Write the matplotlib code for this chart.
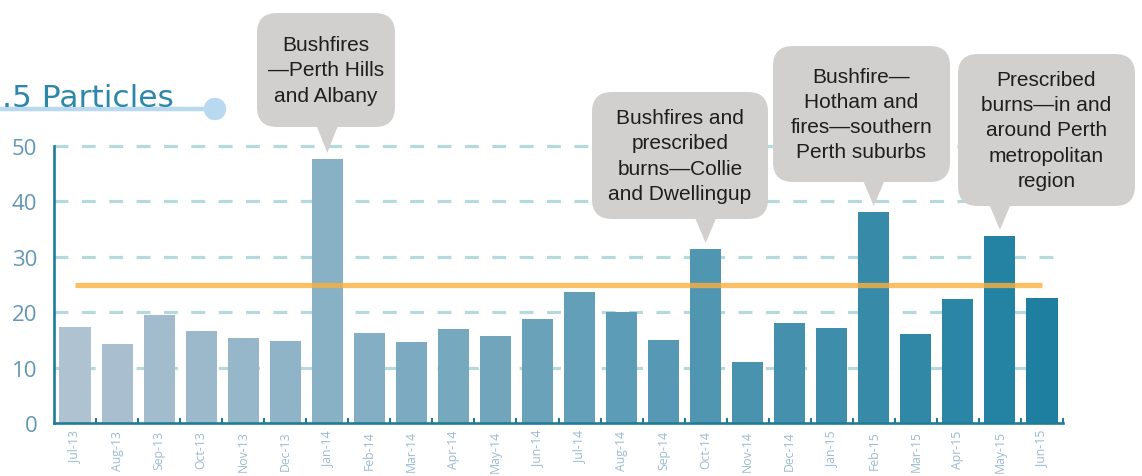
import matplotlib
matplotlib.use("Agg")
import matplotlib.pyplot as plt
import numpy as np
from matplotlib.colors import LinearSegmentedColormap
from matplotlib.patches import FancyBboxPatch, Polygon, Circle
from matplotlib.lines import Line2D

# ---------------- data ----------------
months = ["Jul-13", "Aug-13", "Sep-13", "Oct-13", "Nov-13", "Dec-13",
          "Jan-14", "Feb-14", "Mar-14", "Apr-14", "May-14", "Jun-14",
          "Jul-14", "Aug-14", "Sep-14", "Oct-14", "Nov-14", "Dec-14",
          "Jan-15", "Feb-15", "Mar-15", "Apr-15", "May-15", "Jun-15"]
pm25 = [17.3, 14.3, 19.5, 16.6, 15.3, 14.8,
        47.7, 16.2, 14.6, 17.0, 15.7, 18.8,
        23.6, 20.0, 15.0, 31.4, 11.0, 18.1,
        17.1, 38.1, 16.1, 22.4, 33.8, 22.6]
standard = 25
yticks = [0, 10, 20, 30, 40, 50]
title_text = ".5 Particles"
callout_months = ["Jan-14", "Oct-14", "Feb-15", "May-15"]
callout_texts = ["Bushfires\n\u2014Perth Hills\nand Albany",
                 "Bushfires and\nprescribed\nburns\u2014Collie\nand Dwellingup",
                 "Bushfire\u2014\nHotham and\nfires\u2014southern\nPerth suburbs",
                 "Prescribed\nburns\u2014in and\naround Perth\nmetropolitan\nregion"]

# ---------------- layout (pixels) ----------------
W, H = 1142, 477
ax_left, ax_right, ax_bottom, ax_top_50 = 54, 1063, 424, 147
ymax = 50.5
px_per_unit = (ax_bottom - ax_top_50) / 50.0
ax_top = ax_bottom - ymax * px_per_unit
# callout boxes: left, right, top, bottom (pixels, origin top-left)
callout_boxes = [(257, 395, 14, 128),
                 (592, 768, 93, 220),
                 (773, 950, 47, 183),
                 (958, 1135, 55, 207)]

spine_c = "#1f7c99"
grid_c = "#b6dadb"
ytick_c = "#6398b8"
xtick_c = "#9dbbd0"
orange_c = "#fbb040"
box_c = "#d1d0cf"

fig = plt.figure(figsize=(W / 100, H / 100), dpi=100)
ax = fig.add_axes([ax_left / W, 1 - ax_bottom / H,
                   (ax_right - ax_left) / W, (ax_bottom - ax_top) / H])

cmap = LinearSegmentedColormap.from_list("bars", ["#afc2d2", "#1e7fa0"])
x = np.arange(len(months))
colors = [cmap(i / (len(months) - 1)) for i in range(len(months))]

ax.set_xlim(-0.5, len(months) - 0.5)
ax.set_ylim(0, ymax)

# grid
for yv in yticks[1:]:
    ax.add_line(Line2D([-0.5, len(months) - 0.5], [yv, yv], color=grid_c,
                       lw=2.3, dashes=(10.0 / 2.3, 9.7 / 2.3),
                       dash_capstyle="butt", zorder=1))

ax.bar(x, pm25, width=0.74, color=colors, zorder=2)
ax.hlines(standard, 0, len(months) - 1, color=orange_c, lw=3.8,
          alpha=0.8, zorder=3)

for s in ["top", "right"]:
    ax.spines[s].set_visible(False)
for s in ["left", "bottom"]:
    ax.spines[s].set_color(spine_c)
    ax.spines[s].set_linewidth(1.9)
ax.spines["left"].set_bounds(0, 50)

ax.set_yticks(yticks)
ax.set_yticklabels([str(v) for v in yticks])
ax.tick_params(axis="y", length=0, pad=12, labelsize=16, labelcolor=ytick_c)
for t in ax.get_yticklabels():
    t.set_fontfamily("Open Sans")

ax.set_xticks(x)
ax.set_xticklabels(months, rotation=90)
ax.tick_params(axis="x", which="major", length=0, pad=5, labelsize=8.8,
               labelcolor=xtick_c)
for t in ax.get_xticklabels():
    t.set_fontfamily("Open Sans")
ax.set_xticks(x + 0.5, minor=True)
ax.tick_params(axis="x", which="minor", direction="in", length=3.8,
               width=1.5, color=spine_c)

# ---------------- overlay: title & callouts ----------------
oax = fig.add_axes([0, 0, 1, 1], zorder=5)
oax.set_xlim(0, W)
oax.set_ylim(H, 0)
oax.axis("off")
oax.patch.set_alpha(0)

oax.plot([0, 215], [110, 110], color="#b9d9f0", lw=3.2,
         solid_capstyle="butt")
oax.add_patch(Circle((215, 110), 10.5, color="#b9d9f0"))
oax.text(2, 107, title_text, fontsize=22.5, color="#2d87a9",
         family="DejaVu Sans", ha="left", va="baseline")

fig.canvas.draw()
for m, txt, (l, r, t, b) in zip(callout_months, callout_texts, callout_boxes):
    i = months.index(m)
    disp = ax.transData.transform((i, pm25[i]))
    tipx = disp[0]
    tipy = H - disp[1] - 6
    oax.add_patch(FancyBboxPatch((l, t), r - l, b - t,
                                 boxstyle="round,pad=0,rounding_size=20",
                                 facecolor=box_c, edgecolor="none"))
    oax.add_patch(Polygon([(tipx - 11, b - 2), (tipx + 11, b - 2),
                           (tipx, tipy)], closed=True,
                          facecolor=box_c, edgecolor="none"))
    oax.text((l + r) / 2, (t + b) / 2, txt, ha="center", va="center",
             fontsize=15, family="Liberation Sans", color="#1e1e1e",
             linespacing=1.42, multialignment="center")

fig.savefig("out.png", dpi=100)
